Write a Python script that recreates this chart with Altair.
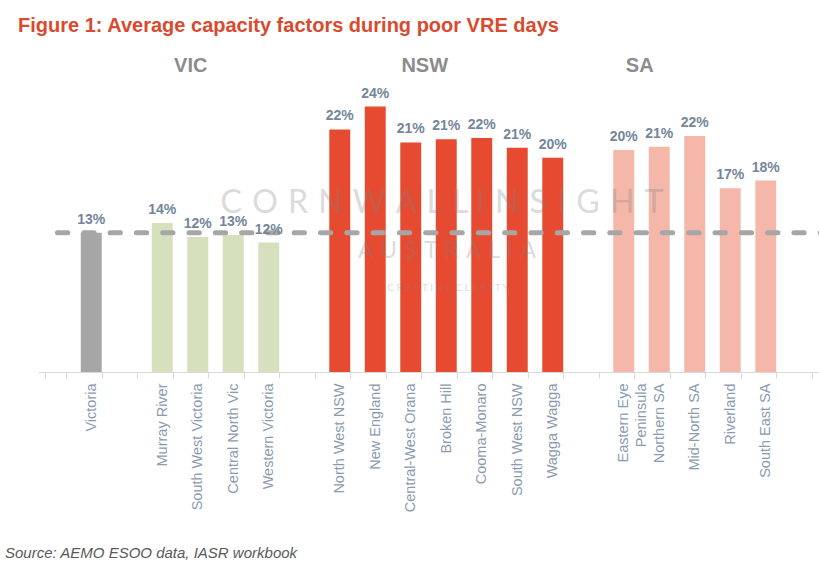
import altair as alt
import pandas as pd

# ---- data -------------------------------------------------------------
vic_regions = ["Victoria"]
vic_values = [12.8]
vic_sub_regions = ["Murray River", "South West Victoria", "Central North Vic", "Western Victoria"]
vic_sub_values = [13.7, 12.4, 12.6, 11.9]
nsw_regions = ["North West NSW", "New England", "Central-West Orana", "Broken Hill",
               "Cooma-Monaro", "South West NSW", "Wagga Wagga"]
nsw_values = [22.3, 24.4, 21.1, 21.4, 21.5, 20.6, 19.7]
sa_regions = ["Eastern Eye Peninsula", "Northern SA", "Mid-North SA", "Riverland", "South East SA"]
sa_values = [20.4, 20.7, 21.7, 16.9, 17.6]

group_names = ["VIC", "NSW", "SA"]
title_text = "Figure 1: Average capacity factors during poor VRE days"
source_text = "Source: AEMO ESOO data, IASR workbook"
watermark_lines = ["CORNWALL INSIGHT", "AUSTRALIA", "CREATING CLARITY"]

# spacer slots between groups (blank categories)
gap = [" ", "  ", "   ", "    ", "     "]
order = ([gap[0]] + vic_regions + [gap[1]] + vic_sub_regions + [gap[2]]
         + nsw_regions + [gap[3]] + sa_regions + [gap[4]])

rows = []
for r, v in zip(vic_regions, vic_values):
    rows.append({"region": r, "value": v, "kind": "Victoria"})
for r, v in zip(vic_sub_regions, vic_sub_values):
    rows.append({"region": r, "value": v, "kind": "VIC"})
for r, v in zip(nsw_regions, nsw_values):
    rows.append({"region": r, "value": v, "kind": "NSW"})
for r, v in zip(sa_regions, sa_values):
    rows.append({"region": r, "value": v, "kind": "SA"})
df = pd.DataFrame(rows)

FONT = "Liberation Sans"
W, H = 781, 272
y_scale = alt.Scale(domain=[0, 25], nice=False)

x_enc = alt.X(
    "region:N",
    sort=None,
    scale=alt.Scale(domain=order, paddingInner=0.41, paddingOuter=0.205),
    axis=alt.Axis(
        title=None,
        labelAngle=-90,
        labelFont=FONT,
        labelFontSize=14.5,
        labelColor="#8A9BB0",
        labelPadding=5,
        labelLineHeight=18,
        labelExpr="datum.value == 'Eastern Eye Peninsula' ? ['Eastern Eye', 'Peninsula'] : datum.value",
        tickBand="extent",
        tickSize=6,
        tickColor="#D9D9D9",
        domainColor="#D9D9D9",
        labelOverlap=False,
    ),
)
y_enc = alt.Y("value:Q", scale=y_scale, axis=None)

base = alt.Chart(df)


def spaced(s, sep, word_sep):
    return word_sep.join(sep.join(list(w)) for w in s.split(" "))


wm_style = dict(font="Lato", fontWeight=400, color="#808080", opacity=0.28,
                align="center", baseline="alphabetic")
wm1 = alt.Chart(pd.DataFrame({"t": [spaced(watermark_lines[0], " \u200a", "   ")]})).mark_text(
    fontSize=32, **wm_style
).encode(x=alt.value(404), y=alt.value(113), text="t:N")
wm2 = alt.Chart(pd.DataFrame({"t": [spaced(watermark_lines[1], " \u200a", "  ")]})).mark_text(
    fontSize=23, **wm_style
).encode(x=alt.value(409), y=alt.value(158), text="t:N")
wm3 = alt.Chart(pd.DataFrame({"t": [spaced(watermark_lines[2], " ", "   ")]})).mark_text(
    fontSize=10, **wm_style
).encode(x=alt.value(410), y=alt.value(191), text="t:N")

bars = base.mark_bar().encode(
    x=x_enc,
    y=y_enc,
    color=alt.Color(
        "kind:N",
        scale=alt.Scale(domain=["Victoria", "VIC", "NSW", "SA"],
                        range=["#A6A6A6", "#D6E0BC", "#E64B32", "#F4B7AA"]),
        legend=None,
    ),
)

ref = alt.Chart(pd.DataFrame({"v": vic_values})).mark_rule(
    strokeDash=[10.3, 16], strokeWidth=5, strokeCap="round", color="#A6A6A6"
).encode(y=alt.Y("v:Q", scale=y_scale, axis=None),
         x=alt.value(19.5), x2=alt.value(800))

labels = base.transform_calculate(lbl="round(datum.value) + '%'").mark_text(
    font=FONT, fontSize=14, fontWeight="bold", color="#73869A", baseline="alphabetic", dy=-9
).encode(x=alt.X("region:N", sort=None), y="value:Q", text="lbl:N")

# group headers anchored to a category in each group
group_anchor = ["South West Victoria", "Central-West Orana", "Eastern Eye Peninsula"]
group_dx = [-7, 14, 16]
group_layers = []
for g, a, d in zip(group_names, group_anchor, group_dx):
    group_layers.append(
        alt.Chart(pd.DataFrame({"region": [a], "g": [g]})).mark_text(
            font=FONT, fontSize=20, fontWeight="bold", color="#8C8C8C",
            baseline="alphabetic", dx=d
        ).encode(x=alt.X("region:N", sort=None), y=alt.value(-28), text="g:N")
    )

title = alt.Chart(pd.DataFrame({"t": [title_text]})).mark_text(
    font=FONT, fontSize=20, fontWeight="bold", color="#DA4A2E", align="left", baseline="alphabetic"
).encode(x=alt.value(-20), y=alt.value(-68), text="t:N")

source = alt.Chart(pd.DataFrame({"t": [source_text]})).mark_text(
    font=FONT, fontSize=15, fontStyle="italic", color="#595959", align="left", baseline="alphabetic"
).encode(x=alt.value(-33), y=alt.value(458), text="t:N")

chart = alt.layer(bars, ref, labels, wm1, wm2, wm3, *group_layers, title, source).properties(
    width=W,
    height=H,
    autosize=alt.AutoSizeParams(type="none"),
    padding={"left": 38, "top": 100, "right": 0, "bottom": 194},
    background="white",
).configure_view(strokeWidth=0)

chart.save("out.html", embed_options={"renderer": "svg", "actions": False})
